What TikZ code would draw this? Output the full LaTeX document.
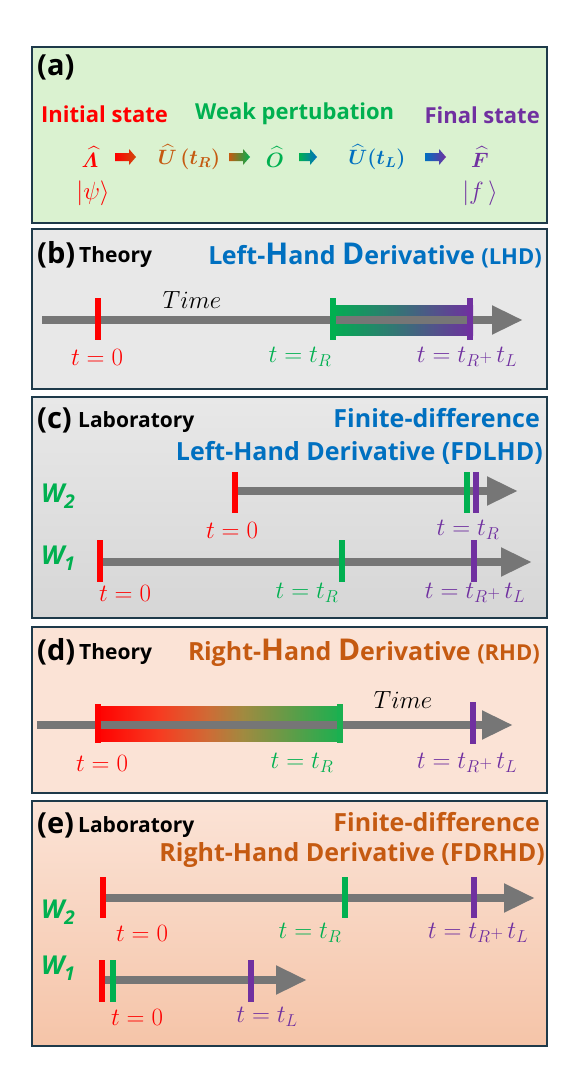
\documentclass[tikz,border=0pt]{standalone}
\usepackage{amsmath,bm}
\usepackage{fontspec}
\setmainfont{Open Sans}
\usepackage{tikz}
\usetikzlibrary{arrows.meta,positioning}

\definecolor{redc}{HTML}{FF0000}
\definecolor{greenc}{HTML}{00B050}
\definecolor{purplec}{HTML}{7030A0}
\definecolor{bluec}{HTML}{0070C0}
\definecolor{brownc}{HTML}{C55A11}
\definecolor{axisgray}{HTML}{767676}
\definecolor{boxline}{HTML}{1E3A4A}
\definecolor{fillA}{HTML}{DAF2D0}
\definecolor{fillB}{HTML}{E8E8E8}
\definecolor{fillCb}{HTML}{D6D6D6}
\definecolor{fillD}{HTML}{FBE3D6}
\definecolor{fillEb}{HTML}{F5C4A8}
\definecolor{rhdA}{HTML}{F83A20}
\definecolor{rhdB}{HTML}{D06A35}
\definecolor{rhdC}{HTML}{A08A40}
\definecolor{rhdD}{HTML}{1AB050}

\pgfdeclarehorizontalshading{rhdbar}{100bp}{color(0bp)=(redc); color(25bp)=(redc);
  color(37.5bp)=(rhdA); color(47.5bp)=(rhdB); color(55bp)=(rhdC); color(75bp)=(rhdD); color(100bp)=(rhdD)}

\begin{document}
\begin{tikzpicture}[x=1pt, y=-1pt,
  panel/.style={draw=boxline, line width=2pt},
  tag/.style={font=\fontsize{29}{31}\selectfont\bfseries, anchor=west, inner sep=0pt},
  kind/.style={font=\fontsize{21}{23}\selectfont\bfseries, anchor=west, inner sep=0pt},
  head/.style={font=\fontsize{25}{27}\selectfont\bfseries, inner sep=0pt},
  big/.style={font=\fontsize{22}{24}\selectfont\bfseries, inner sep=0pt},
  op/.style={font=\fontsize{22}{24}\selectfont, inner sep=0pt},
  lbl/.style={font=\fontsize{27}{29}\selectfont, inner sep=0pt},
  wire/.style={font=\fontsize{26}{28}\selectfont\bfseries\itshape, text=greenc, anchor=west, inner sep=0pt},
  axis/.style={axisgray, line width=8pt, -{Triangle[length=31pt, width=27pt]}},
  tick/.style={line width=6pt}
]
\useasboundingbox (0,0) rectangle (578,1079);

% panel boxes
\filldraw[panel, fill=fillA] (32,47) rectangle (547,223);
\filldraw[panel, fill=fillB] (32,229) rectangle (547,389);
\shade[top color=fillB, bottom color=fillCb] (32,397) rectangle (547,618);
\draw[panel] (32,397) rectangle (547,618);
\filldraw[panel, fill=fillD] (32,627) rectangle (547,793);
\shade[top color=fillD, bottom color=fillEb] (32,801) rectangle (547,1046);
\draw[panel] (32,801) rectangle (547,1046);

% (a) sequence of operators
\node[tag] (tagA) at (37,67) {(a)};
\node[big, text=redc, anchor=west] (init) at (41,114) {Initial state};
\node[big, text=greenc, anchor=west] (weak) at (195,114) {Weak pertubation};
\node[big, text=purplec, anchor=east] (final) at (540,115) {Final state};

\node[op, text=redc] (lam) at (90,157) {$\widehat{\bm{\varLambda}}$};
\node[op, text=brownc] (uR) at (189,157) {$\widehat{\bm{U}}\,\bm{(}\bm{t}_{\bm{R}}\bm{)}$};
\node[op, text=greenc] (obs) at (275,157) {$\widehat{\bm{O}}$};
\node[op, text=bluec] (uL) at (377,157) {$\widehat{\bm{U}}\bm{(}\bm{t}_{\bm{L}}\bm{)}$};
\node[op, text=purplec] (fin) at (480,157) {$\widehat{\bm{F}}$};
\node[lbl, text=redc] (psi) at (93,193) {$|\psi\rangle$};
\node[lbl, text=purplec] (fket) at (480,193) {$|f\,\rangle$};

% block arrows between the operators
\shade[left color=redc, right color=brownc!80!redc]
  (115,153) -- ++(14,0) -- ++(0,-4) -- ++(7,8) -- ++(-7,8) -- ++(0,-4) -- ++(-14,0) -- cycle;
\shade[left color=brownc, right color=greenc]
  (229,153) -- ++(14,0) -- ++(0,-4) -- ++(7,8) -- ++(-7,8) -- ++(0,-4) -- ++(-14,0) -- cycle;
\shade[left color=greenc, right color=bluec]
  (299,153) -- ++(11,0) -- ++(0,-4) -- ++(7,8) -- ++(-7,8) -- ++(0,-4) -- ++(-11,0) -- cycle;
\shade[left color=bluec, right color=purplec]
  (425,153) -- ++(14,0) -- ++(0,-4) -- ++(7,8) -- ++(-7,8) -- ++(0,-4) -- ++(-14,0) -- cycle;

% (b) theory, left-hand derivative
\node[tag] (tagB) at (37,255) {(b)};
\node[kind] (thB) at (79,257) {Theory};
\node[head, text=bluec, anchor=east] (ttlB) at (542,256)
  {L\kern-0.5pt eft-{\fontsize{30}{32}\selectfont H}and {\fontsize{30}{32}\selectfont D}erivative {\fontsize{22}{24}\selectfont(LHD)}};
\coordinate (b0) at (42,320);
\coordinate (b1) at (523,320);
\shade[left color=greenc, right color=purplec] (330,305) rectangle (473,335);
\draw[axis] (b0) -- (b1);
\draw[tick, redc] (98,298) -- (98,340);
\draw[tick, greenc] (333,298) -- (333,340);
\draw[tick, purplec] (470,298) -- (470,340);
\node[lbl] (timeB) at (192,300) {$Time$};
\node[lbl, text=redc] (b0lbl) at (97,357) {$t=0$};
\node[lbl, text=greenc] (bRlbl) at (300,357) {$t=t_R$};
\node[lbl, text=purplec] (bLlbl) at (467,357) {$t=t_R{\scriptstyle+}\,t_L$};

% (c) laboratory, finite-difference LHD
\node[tag] (tagC) at (37,420) {(c)};
\node[kind] (labC) at (78,422) {Laboratory};
\node[head, text=bluec, anchor=east] (ttlC1) at (540,418) {Finite-difference};
\node[head, text=bluec, anchor=east] (ttlC2) at (543,453) {Left-Hand Derivative (FDLHD)};
\node[wire] (w2C) at (41,496) {W\raisebox{-6pt}{\fontsize{19}{19}\selectfont 2}};
\coordinate (c20) at (235,491);
\coordinate (c21) at (518,491);
\draw[axis] (c20) -- (c21);
\draw[tick, redc] (235,472) -- (235,513);
\draw[tick, greenc] (467,472) -- (467,513);
\draw[tick, purplec] (476,472) -- (476,513);
\node[lbl, text=redc] (c2lbl0) at (232,530) {$t=0$};
\node[lbl, text=purplec] (c2lblR) at (468,530) {$t=t_R$};
\node[wire] (w1C) at (41,558) {W\raisebox{-6pt}{\fontsize{19}{19}\selectfont 1}};
\coordinate (c10) at (102,562);
\coordinate (c11) at (532,562);
\draw[axis] (c10) -- (c11);
\draw[tick, redc] (100,540) -- (100,582);
\draw[tick, greenc] (342,540) -- (342,582);
\draw[tick, purplec] (474,540) -- (474,582);
\node[lbl, text=redc] (c1lbl0) at (125,593) {$t=0$};
\node[lbl, text=greenc] (c1lblR) at (307,593) {$t=t_R$};
\node[lbl, text=purplec] (c1lblL) at (475,593) {$t=t_R{\scriptstyle+}\,t_L$};

% (d) theory, right-hand derivative
\node[tag] (tagD) at (37,652) {(d)};
\node[kind] (thD) at (79,654) {Theory};
\node[head, text=brownc, anchor=east] (ttlD) at (540,653)
  {R\kern-0.5pt ight-{\fontsize{30}{32}\selectfont H}and {\fontsize{30}{32}\selectfont D}erivative {\fontsize{22}{24}\selectfont(RHD)}};
\coordinate (d0) at (37,725);
\coordinate (d1) at (513,725);
\shade[shading=rhdbar] (97,706) rectangle (341,741);
\draw[axis] (d0) -- (d1);
\draw[tick, redc] (98,704) -- (98,743);
\draw[tick, rhdD] (340,704) -- (340,743);
\draw[tick, purplec] (473,702) -- (473,744);
\node[lbl] (timeD) at (403,700) {$Time$};
\node[lbl, text=redc] (d0lbl) at (102,763) {$t=0$};
\node[lbl, text=greenc] (dRlbl) at (302,763) {$t=t_R$};
\node[lbl, text=purplec] (dLlbl) at (467,763) {$t=t_R{\scriptstyle+}\,t_L$};

% (e) laboratory, finite-difference RHD
\node[tag] (tagE) at (37,825) {(e)};
\node[kind] (labE) at (78,827) {Laboratory};
\node[head, text=brownc, anchor=east] (ttlE1) at (540,822) {Finite-difference};
\node[head, text=brownc, anchor=east] (ttlE2) at (545,855) {Right-Hand Derivative (FDRHD)};
\node[wire] (w2E) at (41,912) {W\raisebox{-6pt}{\fontsize{19}{19}\selectfont 2}};
\coordinate (e20) at (103,898);
\coordinate (e21) at (535,898);
\draw[axis] (e20) -- (e21);
\draw[tick, redc] (103,877) -- (103,918);
\draw[tick, greenc] (345,877) -- (345,918);
\draw[tick, purplec] (474,877) -- (474,918);
\node[lbl, text=redc] (e2lbl0) at (142,933) {$t=0$};
\node[lbl, text=greenc] (e2lblR) at (310,933) {$t=t_R$};
\node[lbl, text=purplec] (e2lblL) at (478,933) {$t=t_R{\scriptstyle+}\,t_L$};
\node[wire] (w1E) at (41,968) {W\raisebox{-6pt}{\fontsize{19}{19}\selectfont 1}};
\coordinate (e10) at (105,980);
\coordinate (e11) at (307,980);
\draw[axis] (e10) -- (e11);
\draw[tick, redc] (102,960) -- (102,1002);
\draw[tick, greenc] (113,960) -- (113,1002);
\draw[tick, purplec] (251,960) -- (251,1002);
\node[lbl, text=redc] (e1lbl0) at (137,1017) {$t=0$};
\node[lbl, text=purplec] (e1lblL) at (267,1017) {$t=t_L$};
\end{tikzpicture}
\end{document}
